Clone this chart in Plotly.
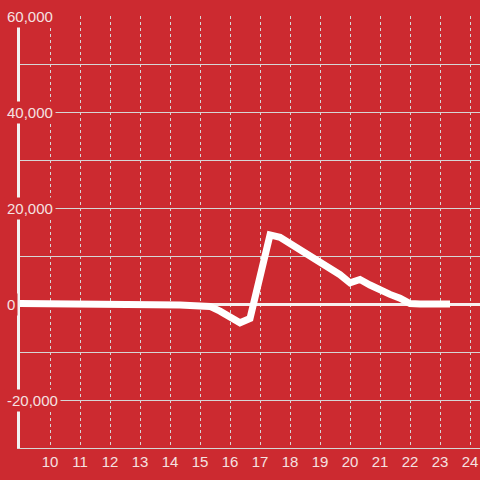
import plotly.graph_objects as go

# hours of day, sampled every 20 minutes
hours = [9.0, 9.333, 9.667, 10.0, 10.333, 10.667, 11.0, 11.333, 11.667,
         12.0, 12.333, 12.667, 13.0, 13.333, 13.667, 14.0, 14.333, 14.667,
         15.0, 15.333, 15.667, 16.0, 16.333, 16.667, 17.0, 17.333, 17.667,
         18.0, 18.333, 18.667, 19.0, 19.333, 19.667, 20.0, 20.333, 20.667,
         21.0, 21.333, 21.667, 22.0, 22.333, 22.667, 23.0, 23.333]
values = [100, 100, 100, 100, 100, 100, 100, 100, 100,
          100, 100, 100, 100, 100, 100, 0, -200, -300,
          -300, -500, -1500, -2800, -3900, -3000, 5500, 14400, 13900,
          12600, 11600, 10000, 8600, 7400, 6100, 4400, 5100, 3950,
          2800, 2000, 1200, 100, 0, 0, 0, 0]

x_ticks = [10, 11, 12, 13, 14, 15, 16, 17, 18, 19, 20, 21, 22, 23, 24]
y_ticks = [60000, 40000, 20000, 0, -20000]
y_labels = ["60,000", "40,000", "20,000", "0", "-20,000"]

BG = "#cc2a30"
TXT = "#f5e1e1"
GRID = "#d6d6d6"
FONT = "Liberation Sans, Arial, sans-serif"

fig = go.Figure()
fig.add_trace(go.Scatter(
    x=hours, y=values, mode="lines",
    line=dict(color="white", width=7),
    hoverinfo="skip", showlegend=False,
))

for v, t in zip(y_ticks, y_labels):
    fig.add_annotation(
        x=0, xref="paper", y=v, yref="y",
        text=t, showarrow=False, xanchor="left", yanchor="middle",
        xshift=-16, bgcolor=BG, borderpad=2,
        font=dict(family=FONT, size=15, color=TXT),
    )

fig.update_layout(
    width=480, height=480,
    margin=dict(l=20, r=0, t=16, b=32),
    paper_bgcolor=BG, plot_bgcolor=BG,
    font=dict(family=FONT, size=15, color=TXT),
    xaxis=dict(
        range=[9, 24.333], tickvals=x_ticks, ticks="",
        showgrid=True, gridcolor=GRID, gridwidth=1, griddash="dot",
        showline=True, linecolor=GRID, linewidth=1,
        zeroline=False, tickfont=dict(size=15, color=TXT),
    ),
    yaxis=dict(
        range=[-30000, 60000], dtick=20000, tick0=0,
        showticklabels=False, ticks="",
        showgrid=True, gridcolor=GRID, gridwidth=1,
        minor=dict(dtick=10000, tick0=0, showgrid=True, gridcolor=GRID, gridwidth=1),
        showline=True, linecolor="#f2f2f2", linewidth=3,
        zeroline=True, zerolinecolor="#f7eeee", zerolinewidth=3,
    ),
)

fig.write_html(
    "out.html",
    config={"displayModeBar": False},
    post_script="document.body.style.margin='0';document.body.style.background='#cc2a30';",
)
